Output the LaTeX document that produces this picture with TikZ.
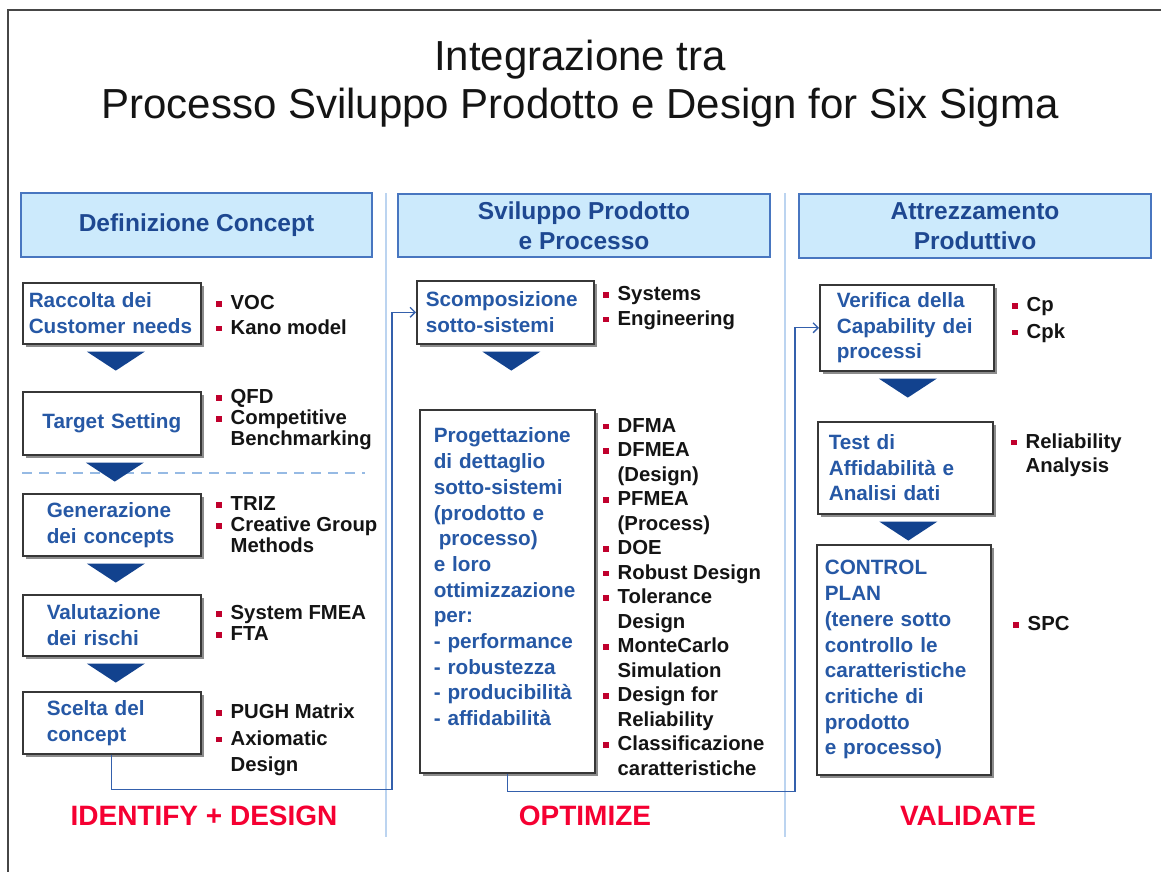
\documentclass[tikz,border=0pt]{standalone}
\usepackage{fontspec}
\setmainfont{Liberation Sans}
\usetikzlibrary{arrows.meta,shadows}
\definecolor{ink}{RGB}{20,20,20}
\definecolor{framegrey}{RGB}{70,70,70}
\definecolor{headfill}{RGB}{204,234,252}
\definecolor{headrule}{RGB}{72,118,192}
\definecolor{headtext}{RGB}{30,72,145}
\definecolor{stagetext}{RGB}{38,88,165}
\definecolor{tridark}{RGB}{18,66,142}
\definecolor{bulletred}{RGB}{192,0,45}
\definecolor{phasered}{RGB}{245,0,50}
\definecolor{seprule}{RGB}{188,212,240}
\definecolor{dashblue}{RGB}{150,186,228}
\definecolor{linkblue}{RGB}{52,96,172}
\tikzset{
  head/.style  = {draw=headrule, line width=2pt, fill=headfill, anchor=north west,
                  font=\fontsize{24.5}{30}\selectfont\bfseries, text=headtext, align=center},
  stage/.style = {draw=ink!85, line width=1.6pt, fill=white, anchor=north west,
                  drop shadow={shadow xshift=3pt, shadow yshift=-3pt, fill=black, opacity=0.45},
                  font=\fontsize{20.7}{25.7}\selectfont\bfseries, text=stagetext, align=left},
  tools/.style = {anchor=west, inner sep=0pt, align=left, text=ink,
                  font=\fontsize{20.3}{24.5}\selectfont\bfseries},
  tight/.style = {font=\fontsize{20.3}{21}\selectfont\bfseries},
  loose/.style = {font=\fontsize{20.3}{26.3}\selectfont\bfseries},
  phase/.style = {font=\fontsize{28}{32}\selectfont\bfseries, text=phasered},
  tri/.style   = {fill=tridark},
  link/.style  = {draw=linkblue, line width=1.3pt},
  sep/.style   = {draw=seprule, line width=1.6pt},
}
% red square bullet, and the indent of a wrapped tool line
\newcommand{\tbul}{\makebox[14.5pt][l]{\textcolor{bulletred}{\rule[3pt]{5.5pt}{5.5pt}}}}
\newcommand{\tcont}{\hspace*{14.5pt}}
% filled chevron under a stage box, optional x offset
\newcommand{\chev}[2][0pt]{\fill[tri] ([shift={(#1-29pt,-7pt)}]#2.south) -- ([shift={(#1+29pt,-7pt)}]#2.south) -- ([shift={(#1,-26pt)}]#2.south) -- cycle;}

\begin{document}
\begin{tikzpicture}[x=1pt,y=-1pt]
\useasboundingbox (0,0) rectangle (1161,872);

% ======================================================= frame and title
\draw[framegrey, line width=2.5pt] (8,872) -- (8,10) -- (1161,10);
\node[font=\fontsize{42}{48}\selectfont, text=ink, align=center] (title) at (580,84)
  {Integrazione tra\\Processo Sviluppo Prodotto e Design for Six Sigma};

% column rules
\draw[sep] (386,193) -- (386,837);
\draw[sep] (785,193) -- (785,837);

% ======================================================= column headers
\node[head, minimum width=351pt, minimum height=64pt] (hdef) at (20,192) {Definizione Concept};
\node[head, minimum width=372pt, minimum height=63pt] (hsvi) at (397,193) {Sviluppo Prodotto\\e Processo};
\node[head, minimum width=352pt, minimum height=64pt] (hatt) at (798,193) {Attrezzamento\\Produttivo};

% ======================================================= column 1 : concept
\draw[dashblue, line width=1.3pt, dash pattern=on 10pt off 7pt] (22,473) -- (365,473);

\node[stage, minimum width=178pt, minimum height=61pt, text width=166pt, inner xsep=6pt] (rac) at (22,282)
  {Raccolta dei\\Customer needs};
\node[stage, minimum width=178pt, minimum height=63pt, text width=166pt, inner xsep=6pt, align=center] (tgt) at (22,391)
  {Target Setting};
\node[stage, minimum width=178pt, minimum height=62pt, text width=130pt, inner xsep=24pt] (gen) at (22,493)
  {Generazione\\dei concepts};
\node[stage, minimum width=178pt, minimum height=61pt, text width=130pt, inner xsep=24pt] (val) at (22,594)
  {Valutazione\\dei rischi};
\node[stage, minimum width=178pt, minimum height=62pt, text width=130pt, inner xsep=24pt] (sce) at (22,691)
  {Scelta del\\concept};

\chev[4pt]{rac} \chev[3pt]{tgt} \chev[4pt]{gen} \chev[4pt]{val}

\node[tools] (tvoc) at (216,315) {\tbul VOC\\\tbul Kano model};
\node[tools, tight] (tqfd) at (216,420) {\tbul QFD\\\tbul Competitive\\\tcont Benchmarking};
\node[tools, tight] (ttriz) at (216,525) {\tbul TRIZ\\\tbul Creative Group\\\tcont Methods};
\node[tools, tight] (tfmea) at (216,623) {\tbul System FMEA\\\tbul FTA};
\node[tools, loose] (tpugh) at (216,740) {\tbul PUGH Matrix\\\tbul Axiomatic\\\tcont Design};

% ======================================================= column 2 : development
\node[stage, minimum width=177pt, minimum height=63pt, text width=159pt, inner xsep=9pt] (scp) at (416,280)
  {Scomposizione\\sotto-sistemi};
% text sits high in this box: 11 lines of 25.7pt below the first baseline, plus 29pt of slack
\node[stage, minimum width=175pt, minimum height=363pt, text width=147pt, inner xsep=14pt, text depth=311.7pt] (prg) at (419,409)
  {Progettazione\\di dettaglio\\sotto-sistemi\\(prodotto e\\\hspace*{5pt}processo)\\e loro\\ottimizzazione\\per:\\- performance\\- robustezza\\- producibilità\\- affidabilità};

\chev[6pt]{scp}

\node[tools] (tsyseng) at (603,308) {\tbul Systems\\\tbul Engineering};
\node[tools] (tdfma) at (603,597)
  {\tbul DFMA\\\tbul DFMEA\\\tcont (Design)\\\tbul PFMEA\\\tcont (Process)\\\tbul DOE\\\tbul Robust Design\\
   \tbul Tolerance\\\tcont Design\\\tbul MonteCarlo\\\tcont Simulation\\\tbul Design for\\\tcont Reliability\\
   \tbul Classificazione\\\tcont caratteristiche};

% ======================================================= column 3 : tooling
\node[stage, minimum width=174pt, minimum height=86pt, text width=140pt, inner xsep=17pt] (ver) at (819,284)
  {Verifica della\\Capability dei\\processi};
\node[stage, minimum width=175pt, minimum height=92pt, text width=153pt, inner xsep=11pt] (tst) at (817,421)
  {Test di\\Affidabilità e\\Analisi dati};
\node[stage, minimum width=174pt, minimum height=230pt, text width=158pt, inner xsep=8pt] (ctl) at (816,544)
  {CONTROL\\PLAN\\(tenere sotto\\controllo le\\caratteristiche\\critiche di\\prodotto\\e processo)};

\chev[1pt]{ver} \chev[3pt]{tst}

\node[tools, loose] (tcp) at (1012,320) {\tbul Cp\\\tbul Cpk};
\node[tools] (trel) at (1011,455) {\tbul Reliability\\\tcont Analysis};
\node[tools] (tspc) at (1013,624) {\tbul SPC};

% ======================================================= hand-over links
\draw[link, -{Straight Barb[length=5pt,width=10pt]}] (sce.south) -- ++(0,35) -| ([xshift=-24pt]scp.west) -- (scp.west);
\draw[link, -{Straight Barb[length=5pt,width=10pt]}] (prg.south) -- ++(0,18) -| ([xshift=-24pt]ver.west) -- (ver.west);

% ======================================================= phase labels
\node[phase] (pid) at (204,816) {IDENTIFY + DESIGN};
\node[phase] (popt) at (585,816) {OPTIMIZE};
\node[phase] (pval) at (968,816) {VALIDATE};

\end{tikzpicture}
\end{document}
